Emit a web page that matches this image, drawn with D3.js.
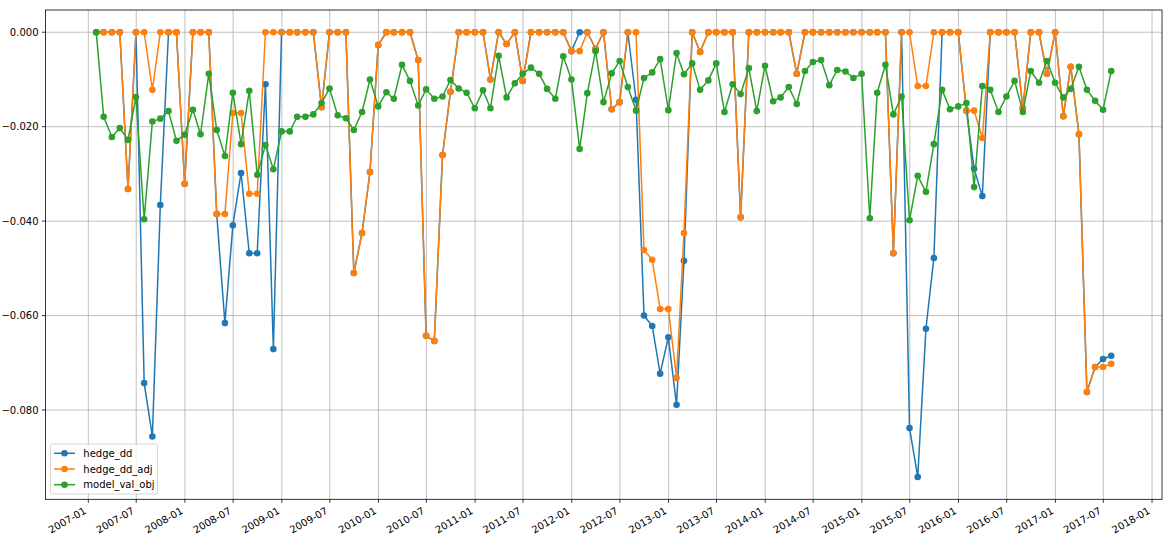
<!DOCTYPE html>
<html>
<head>
<meta charset="utf-8">
<script src="https://cdn.jsdelivr.net/npm/d3@7"></script>
<style>
  html, body { margin: 0; padding: 0; background: #fff; }
  svg { display: block; font-family: "DejaVu Sans", sans-serif; }
</style>
</head>
<body>
<div id="chart"></div>
<script>
// Monthly series, month-end dates from 2007-01 to 2017-07
const firstMonth = new Date(Date.UTC(2007, 0, 1));
const monthCount = 127;

const hedgeDD = [
  0, 0, 0, 0, -0.0332, 0, -0.0743, -0.0856, -0.0366, 0, 0, -0.0321,
  0, 0, 0, -0.0385, -0.0616, -0.0409, -0.0298, -0.0468, -0.0468, -0.0110, -0.0671, 0,
  0, 0, 0, 0, -0.0159, 0, 0, 0, -0.0510, -0.0425, -0.0296, -0.0027,
  0, 0, 0, 0, -0.0059, -0.0643, -0.0654, -0.0260, -0.0126, 0, 0, 0,
  0, -0.0100, 0, -0.0025, 0, -0.0103, 0, 0, 0, 0, 0, -0.0040,
  0, 0, -0.0035, 0, -0.0163, -0.0148, 0, -0.0143, -0.0600, -0.0622, -0.0723, -0.0646,
  -0.0789, -0.0484, 0, -0.0042, 0, 0, 0, 0, -0.0392, 0, 0, 0,
  0, 0, 0, -0.0088, 0, 0, 0, 0, 0, 0, 0, 0,
  0, 0, 0, -0.0468, 0, -0.0838, -0.0942, -0.0628, -0.0478, 0, 0, 0,
  -0.0166, -0.0289, -0.0347, 0, 0, 0, 0, -0.0161, 0, 0, -0.0088, 0,
  -0.0178, -0.0073, -0.0216, -0.0762, -0.0709, -0.0692, -0.0685
];

const hedgeDDAdj = [
  0, 0, 0, 0, -0.0332, 0, 0, -0.0122, 0, 0, 0, -0.0321,
  0, 0, 0, -0.0385, -0.0385, -0.0171, -0.0171, -0.0342, -0.0342, 0, 0, 0,
  0, 0, 0, 0, -0.0159, 0, 0, 0, -0.0510, -0.0425, -0.0296, -0.0027,
  0, 0, 0, 0, -0.0059, -0.0643, -0.0654, -0.0260, -0.0126, 0, 0, 0,
  0, -0.0100, 0, -0.0025, 0, -0.0103, 0, 0, 0, 0, 0, -0.0040,
  -0.0040, 0, -0.0035, 0, -0.0163, -0.0148, 0, 0, -0.0461, -0.0482, -0.0586, -0.0586,
  -0.0732, -0.0425, 0, -0.0042, 0, 0, 0, 0, -0.0392, 0, 0, 0,
  0, 0, 0, -0.0088, 0, 0, 0, 0, 0, 0, 0, 0,
  0, 0, 0, -0.0468, 0, 0, -0.0114, -0.0114, 0, 0, 0, 0,
  -0.0166, -0.0166, -0.0224, 0, 0, 0, 0, -0.0161, 0, 0, -0.0088, 0,
  -0.0178, -0.0073, -0.0216, -0.0762, -0.0709, -0.0709, -0.0702
];

const modelValObj = [
  0, -0.0179, -0.0222, -0.0203, -0.0228, -0.0137, -0.0396, -0.0189, -0.0183, -0.0167, -0.0230, -0.0217,
  -0.0164, -0.0216, -0.0088, -0.0207, -0.0262, -0.0128, -0.0237, -0.0124, -0.0302, -0.0239, -0.0290, -0.0210,
  -0.0210, -0.0179, -0.0179, -0.0174, -0.0150, -0.0119, -0.0176, -0.0182, -0.0207, -0.0169, -0.0100, -0.0157,
  -0.0127, -0.0141, -0.0069, -0.0103, -0.0155, -0.0121, -0.0141, -0.0136, -0.0101, -0.0119, -0.0128, -0.0161,
  -0.0123, -0.0161, -0.0050, -0.0138, -0.0108, -0.0088, -0.0075, -0.0088, -0.0120, -0.0141, -0.0051, -0.0100,
  -0.0247, -0.0129, -0.0040, -0.0148, -0.0087, -0.0061, -0.0116, -0.0166, -0.0097, -0.0085, -0.0057, -0.0165,
  -0.0044, -0.0089, -0.0066, -0.0122, -0.0102, -0.0066, -0.0169, -0.0110, -0.0131, -0.0076, -0.0167, -0.0071,
  -0.0146, -0.0138, -0.0116, -0.0152, -0.0082, -0.0063, -0.0059, -0.0112, -0.0080, -0.0083, -0.0097, -0.0088,
  -0.0394, -0.0128, -0.0069, -0.0174, -0.0136, -0.0398, -0.0304, -0.0338, -0.0237, -0.0122, -0.0163, -0.0157,
  -0.0150, -0.0328, -0.0114, -0.0122, -0.0169, -0.0136, -0.0103, -0.0169, -0.0082, -0.0107, -0.0061, -0.0107,
  -0.0138, -0.0120, -0.0073, -0.0122, -0.0145, -0.0164, -0.0082
];

const seriesNames = ['hedge_dd', 'hedge_dd_adj', 'model_val_obj'];
const seriesColors = ['#1f77b4', '#ff7f0e', '#2ca02c'];
const yTickValues = [0, -0.02, -0.04, -0.06, -0.08];

// month-end dates
const dates = d3.range(monthCount).map(i =>
  d3.utcDay.offset(d3.utcMonth.offset(firstMonth, i + 1), -1));

const series = [hedgeDD, hedgeDDAdj, modelValObj].map((vals, k) => ({
  name: seriesNames[k],
  color: seriesColors[k],
  points: vals.map((v, i) => ({ date: dates[i], value: v }))
}));

const width = 1171, height = 543;
const plot = { left: 45.5, right: 1162, top: 10, bottom: 499.3 };

const svg = d3.select('#chart')
  .append('svg')
  .attr('width', width)
  .attr('height', height);

// scales with matplotlib-like 5% margins
const t0 = +dates[0], t1 = +dates[dates.length - 1];
const tPad = (t1 - t0) * 0.05;
const x = d3.scaleUtc()
  .domain([new Date(t0 - tPad), new Date(t1 + tPad)])
  .range([plot.left, plot.right]);

const allVals = hedgeDD.concat(hedgeDDAdj, modelValObj);
const yMin = d3.min(allVals), yMax = d3.max(allVals);
const yPad = (yMax - yMin) * 0.05;
const y = d3.scaleLinear()
  .domain([yMin - yPad, yMax + yPad])
  .range([plot.bottom, plot.top]);

const xTicks = x.ticks(d3.utcMonth.every(6));
const fmt = d3.utcFormat('%Y-%m');

// grid
const grid = svg.append('g');
grid.selectAll('.vg')
  .data(xTicks)
  .enter()
  .append('line')
  .attr('x1', d => x(d)).attr('x2', d => x(d))
  .attr('y1', plot.top).attr('y2', plot.bottom)
  .style('stroke', '#b0b0b0')
  .style('stroke-width', 0.8);
grid.selectAll('.hg')
  .data(yTickValues)
  .enter()
  .append('line')
  .attr('x1', plot.left).attr('x2', plot.right)
  .attr('y1', d => y(d)).attr('y2', d => y(d))
  .style('stroke', '#b0b0b0')
  .style('stroke-width', 0.8);

// lines and markers
const line = d3.line()
  .x(d => x(d.date))
  .y(d => y(d.value));

series.forEach(s => {
  const g = svg.append('g');
  g.append('path')
    .datum(s.points)
    .attr('d', line)
    .style('fill', 'none')
    .style('stroke', s.color)
    .style('stroke-width', 1.5)
    .style('stroke-linejoin', 'round');
  g.selectAll('circle')
    .data(s.points)
    .enter()
    .append('circle')
    .attr('cx', d => x(d.date))
    .attr('cy', d => y(d.value))
    .attr('r', 3.3)
    .style('fill', s.color);
});

// spines
svg.append('rect')
  .attr('x', plot.left).attr('y', plot.top)
  .attr('width', plot.right - plot.left)
  .attr('height', plot.bottom - plot.top)
  .style('fill', 'none')
  .style('stroke', '#000')
  .style('stroke-width', 0.8);

// x ticks
const xAxis = svg.append('g');
xAxis.selectAll('line')
  .data(xTicks)
  .enter()
  .append('line')
  .attr('x1', d => x(d)).attr('x2', d => x(d))
  .attr('y1', plot.bottom).attr('y2', plot.bottom + 3.5)
  .style('stroke', '#000')
  .style('stroke-width', 0.8);
xAxis.selectAll('text')
  .data(xTicks)
  .enter()
  .append('text')
  .attr('transform', d => `translate(${x(d) - 1.2},${plot.bottom + 7 + 6.5}) rotate(-30)`)
  .attr('text-anchor', 'end')
  .style('font-size', '10px')
  .style('fill', '#000')
  .text(d => fmt(d));

// y ticks
const yAxis = svg.append('g');
yAxis.selectAll('line')
  .data(yTickValues)
  .enter()
  .append('line')
  .attr('x1', plot.left - 3.5).attr('x2', plot.left)
  .attr('y1', d => y(d)).attr('y2', d => y(d))
  .style('stroke', '#000')
  .style('stroke-width', 0.8);
yAxis.selectAll('text')
  .data(yTickValues)
  .enter()
  .append('text')
  .attr('x', plot.left - 7)
  .attr('y', d => y(d))
  .attr('dy', '0.35em')
  .attr('text-anchor', 'end')
  .style('font-size', '10px')
  .style('fill', '#000')
  .text(d => d3.format('.3f')(d).replace('-', '\u2212'));

// legend
const legend = svg.append('g');
legend.append('rect')
  .attr('x', 50.5).attr('y', 444)
  .attr('width', 107).attr('height', 50)
  .attr('rx', 2)
  .style('fill', '#fff')
  .style('fill-opacity', 0.8)
  .style('stroke', '#cccccc')
  .style('stroke-width', 0.8);
series.forEach((s, i) => {
  const ly = 453.3 + i * 15.7;
  legend.append('line')
    .attr('x1', 54).attr('x2', 75)
    .attr('y1', ly).attr('y2', ly)
    .style('stroke', s.color)
    .style('stroke-width', 1.5);
  legend.append('circle')
    .attr('cx', 64.5).attr('cy', ly).attr('r', 3.3)
    .style('fill', s.color);
  legend.append('text')
    .attr('x', 83.3).attr('y', ly)
    .attr('dy', '0.35em')
    .style('font-size', '10px')
    .style('fill', '#000')
    .text(s.name);
});
</script>
</body>
</html>
